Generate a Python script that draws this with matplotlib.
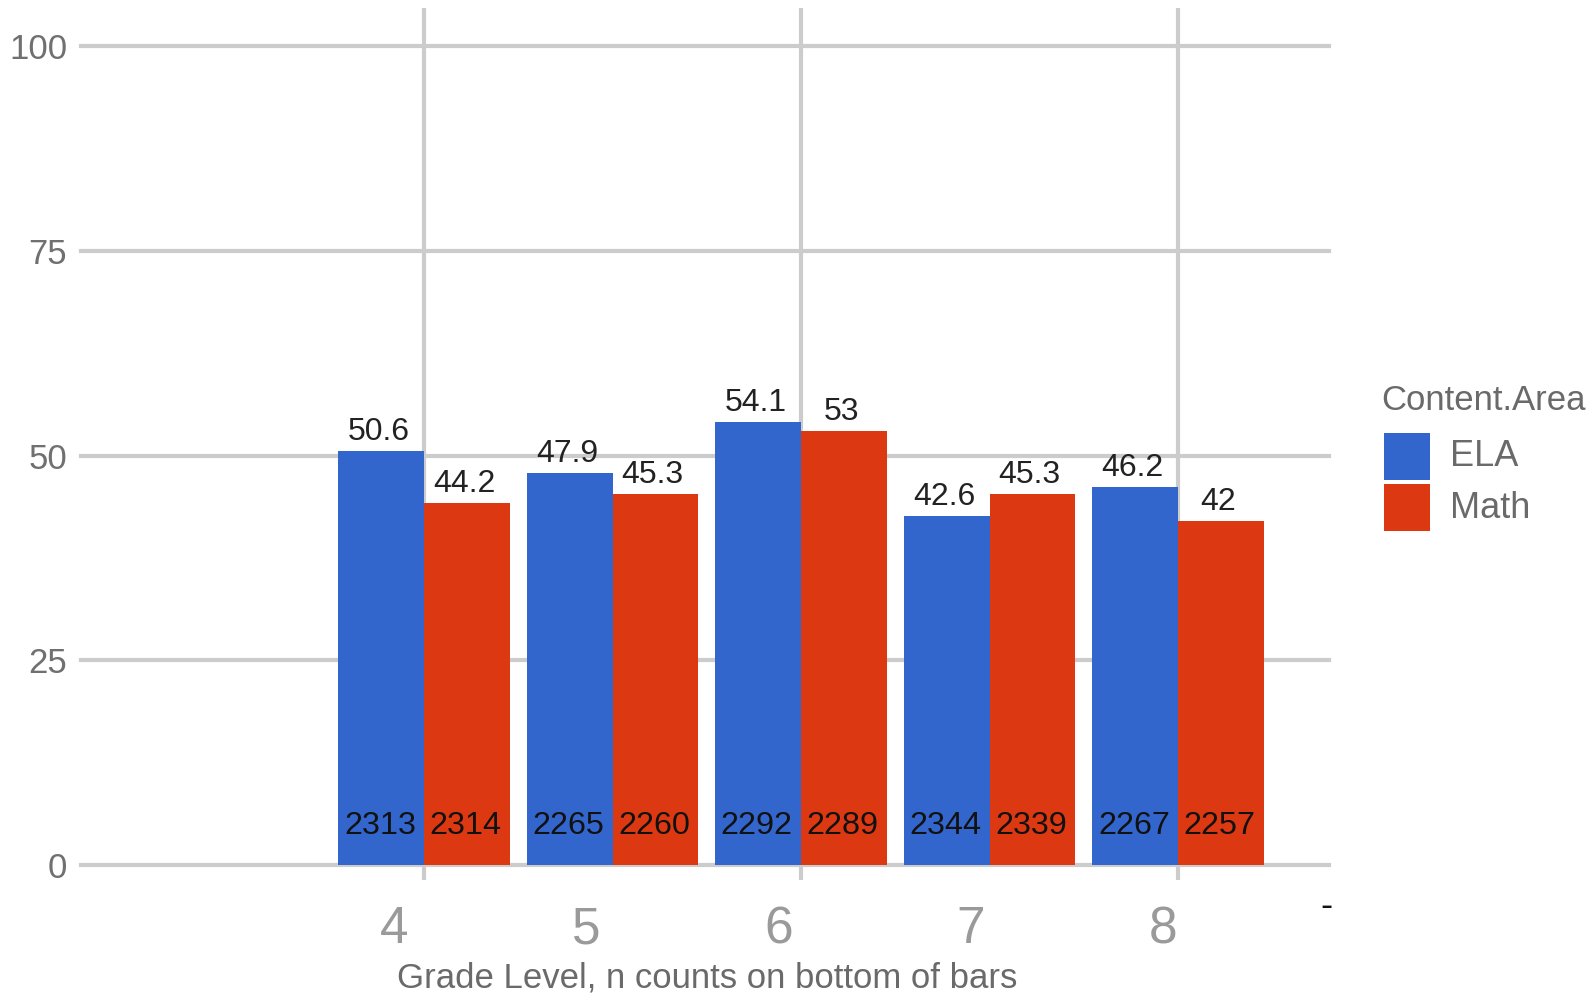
import matplotlib
matplotlib.use("Agg")
import matplotlib.pyplot as plt
from matplotlib.patches import Rectangle
from matplotlib.ticker import FixedLocator

plt.rcParams['font.family'] = ['Liberation Sans', 'DejaVu Sans']

grades = [4, 5, 6, 7, 8]
ela_pct = [50.6, 47.9, 54.1, 42.6, 46.2]
math_pct = [44.2, 45.3, 53.0, 45.3, 42.0]
ela_n = [2313, 2265, 2292, 2344, 2267]
math_n = [2314, 2260, 2289, 2339, 2257]
series_names = ["ELA", "Math"]
ytick_vals = [0, 25, 50, 75, 100]
xgrid_vals = [4, 6, 8]

BLUE = "#3366CC"
RED = "#DC3912"
GRID = "#cccccc"

W, H = 1590, 997
fig = plt.figure(figsize=(W / 100, H / 100), dpi=100)
ax = fig.add_axes([81 / W, 1 - 865 / H, (1329 - 81) / W, (865 - 8) / H])
ax.set_xlim(2.18, 8.80)
ax.set_ylim(0, 104.7)

bw = 0.455
colors = [BLUE, RED]
for vals, ns, off, col in [(ela_pct, ela_n, -bw / 2, BLUE), (math_pct, math_n, bw / 2, RED)]:
    xs = [g + off for g in grades]
    ax.bar(xs, vals, width=bw, color=col, zorder=3, linewidth=0)
    for x, v, n in zip(xs, vals, ns):
        ax.annotate(f"{v:g}", xy=(x, v), xytext=(-2, 3), textcoords="offset points",
                    ha="center", va="bottom", fontsize=23, color="#222222", zorder=4)
        ax.annotate(f"{n}", xy=(x, 0), xytext=(-1, 28), textcoords="offset points",
                    ha="center", va="center", fontsize=23.3, color="#111111", zorder=4)

for s in ax.spines.values():
    s.set_visible(False)

ax.set_yticks(ytick_vals)
ax.set_yticklabels([str(v) for v in ytick_vals])
ax.tick_params(axis="y", length=0, pad=10, labelsize=25, labelcolor="#707070")
ax.xaxis.set_major_locator(FixedLocator(xgrid_vals))
ax.tick_params(axis="x", length=11, width=3, color=GRID, labelbottom=False)
ax.grid(True, color=GRID, linewidth=3, zorder=0)
ax.set_axisbelow(True)
for gl in ax.get_ygridlines():
    gl.set_clip_on(False)

for i, g in enumerate(grades):
    dx_px = (-30 + 3.75 * i) * 1.014
    ax.annotate(str(g), xy=(g, 0), xytext=(dx_px * 0.72, -46.5),
                textcoords="offset points", ha="center", va="center",
                fontsize=37, color="#9a9a9a")

fig.text(707 / W, 1 - 978 / H, "Grade Level, n counts on bottom of bars",
         ha="center", va="center", fontsize=25, color="#6a6a6a")
fig.text(1326 / W, 1 - 906 / H, "-", ha="center", va="center", fontsize=26, color="#111111")

# legend drawn manually
fig.text(1381 / W, 1 - 401 / H, "Content.Area", ha="left", va="center",
         fontsize=25, color="#6a6a6a")
sw_tops = [433, 484]
for name, col, top in zip(series_names, colors, sw_tops):
    fig.patches.append(Rectangle((1384 / W, 1 - (top + 47) / H), 46 / W, 47 / H,
                                 transform=fig.transFigure, facecolor=col,
                                 edgecolor="none"))
    fig.text(1450 / W, 1 - (top + 24) / H, name, ha="left", va="center",
             fontsize=26, color="#6a6a6a")

fig.savefig("out.png", dpi=100)
